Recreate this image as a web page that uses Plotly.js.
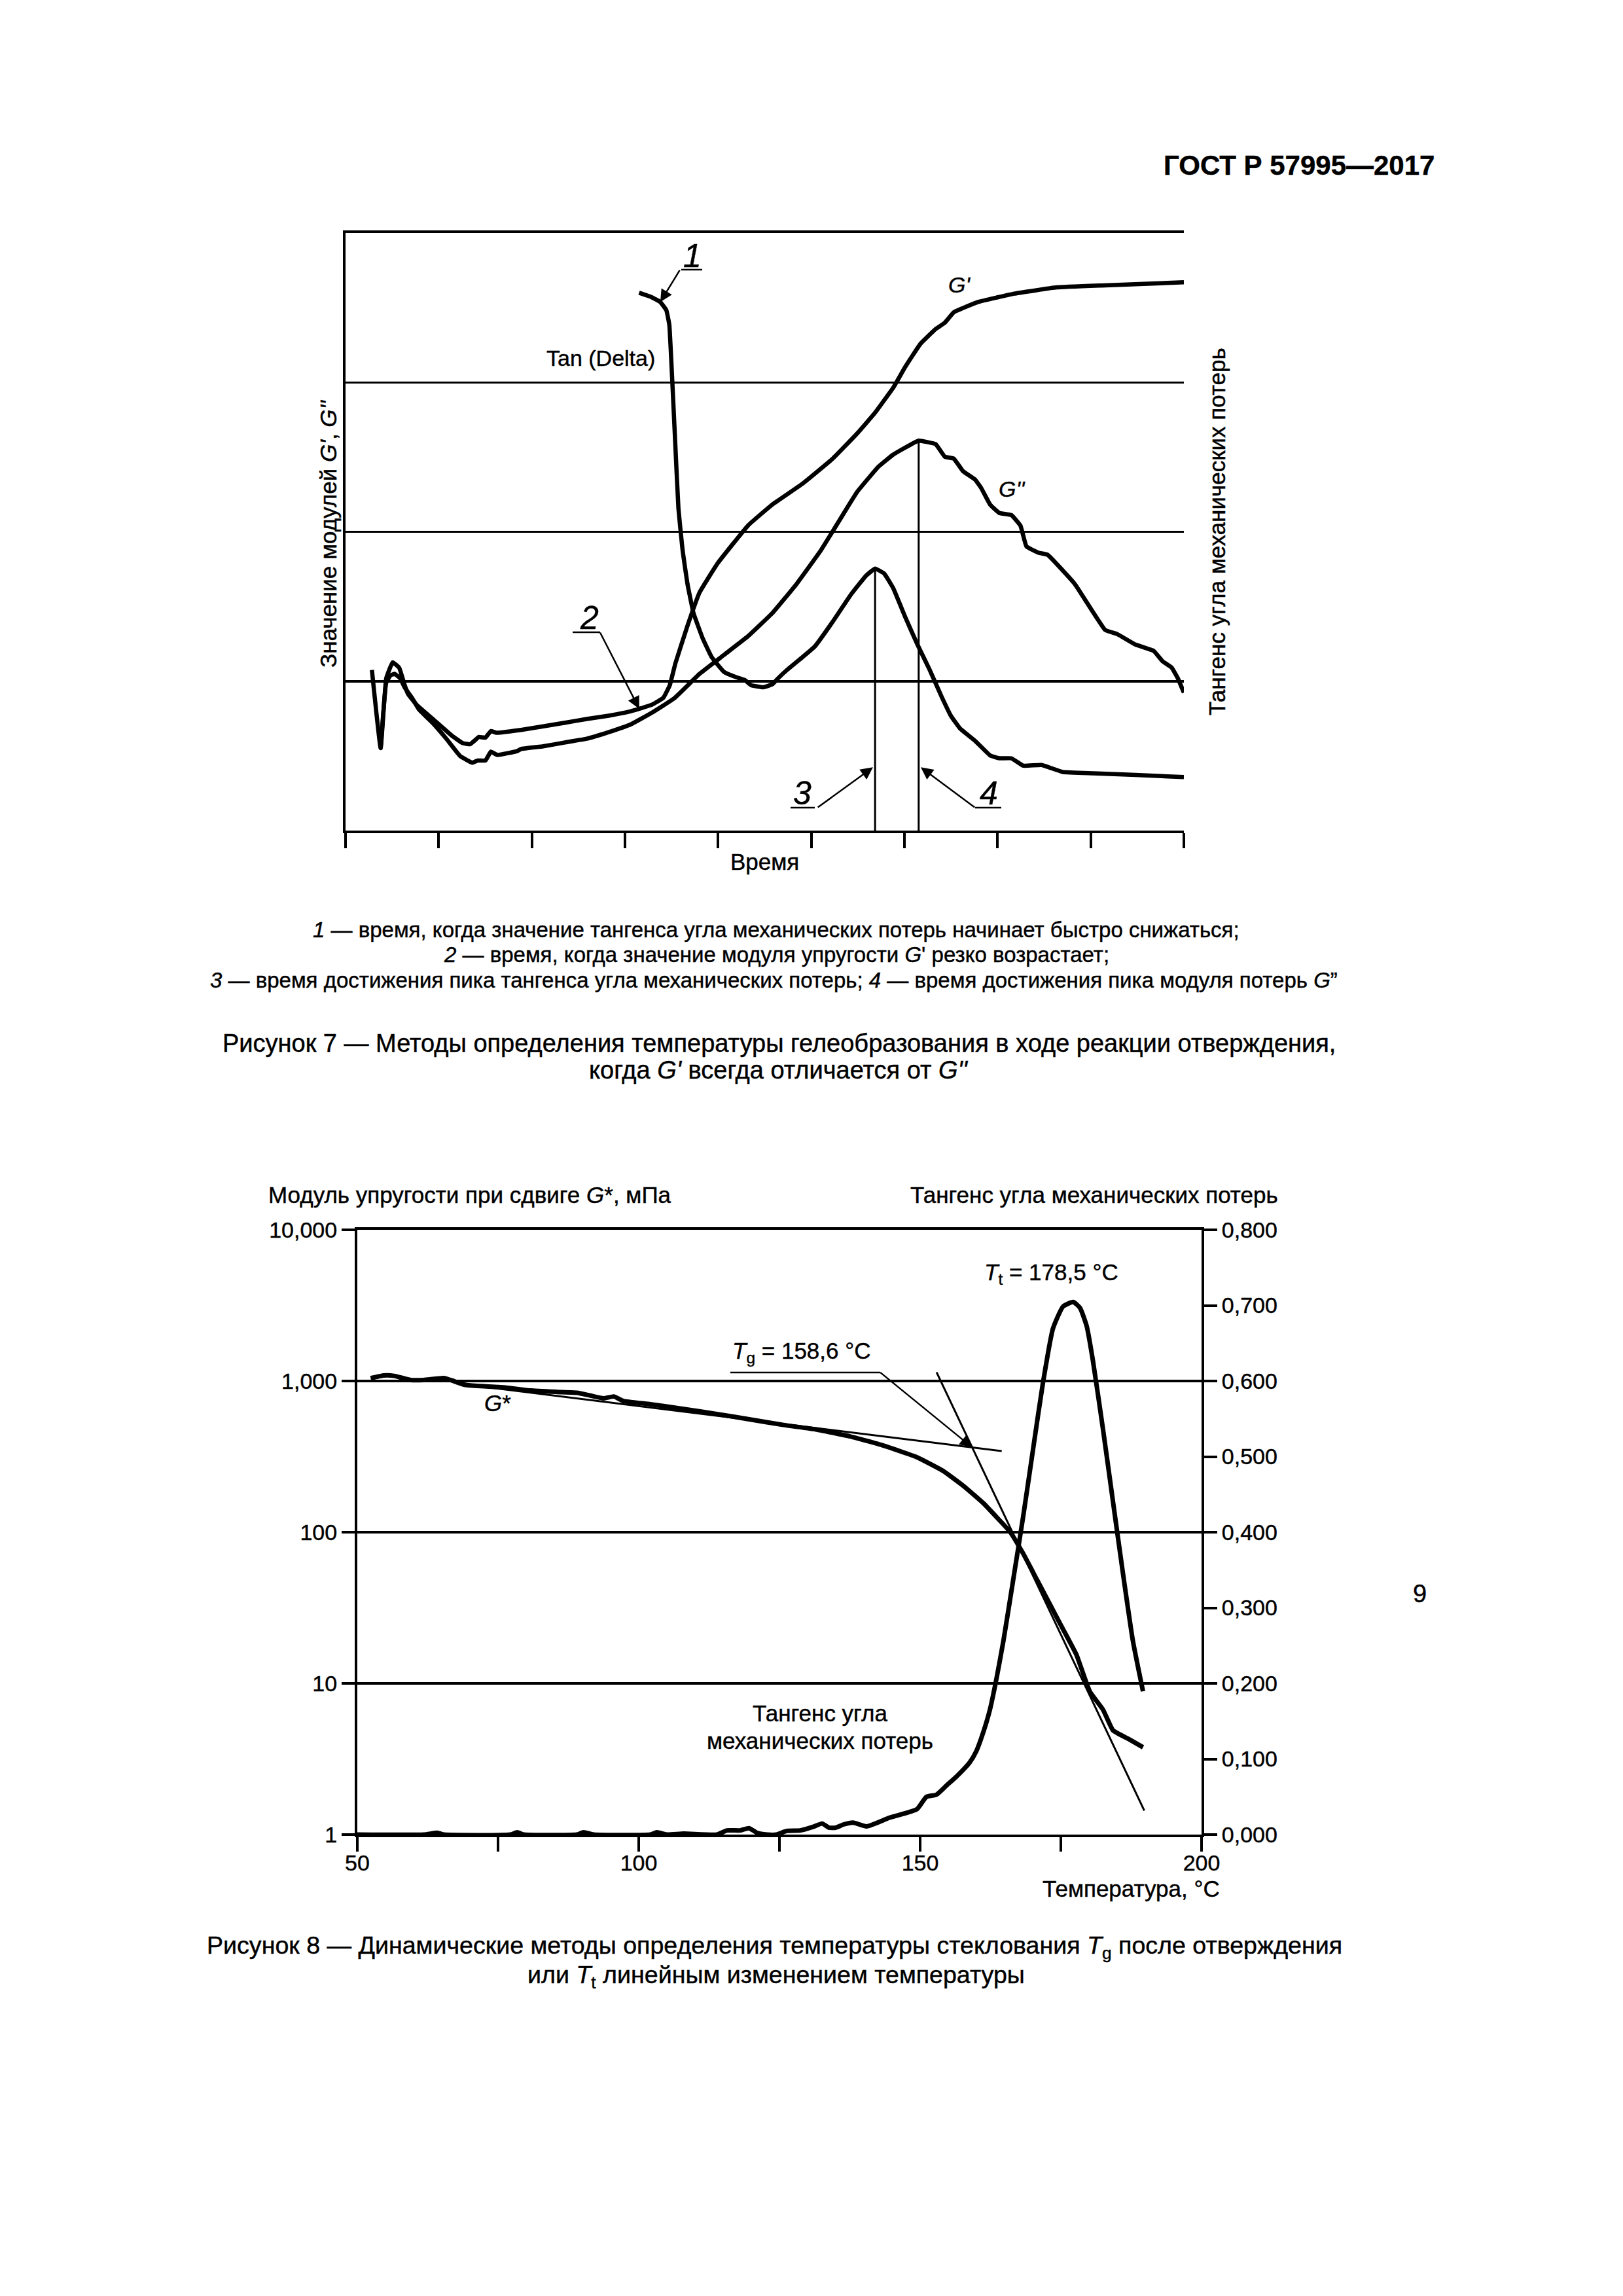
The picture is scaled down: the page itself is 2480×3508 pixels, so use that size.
<!DOCTYPE html>
<html><head><meta charset="utf-8">
<script src="https://cdn.plot.ly/plotly-3.0.1.min.js"></script>
<style>html,body{margin:0;padding:0;background:#fff;} #chart{width:2480px;height:3508px;} #chart text{stroke:#000;stroke-width:0.45px;}</style>
</head><body><div id="chart"></div>
<script>
// ---------- Figure 7 (arbitrary units: time 0..90, modulus 0..40, tan 0..11 ticks) ----------
const tdX = [31.51,32.81,33.79,34.44,34.76,35.09,35.41,35.74,36.19,36.71,37.36,38.34,39.31,40.61,41.91,42.88,43.53,44.83,45.81,46.46,47.43,49.06,50.36,52.31,54.26,55.88,56.85,57.83,58.80,60.10,61.40,62.70,64.00,64.98,65.95,67.58,69.20,70.18,71.48,72.78,74.72,77.0,80.25,84.80,90.0];
const tdY = [36.0,35.72,35.38,34.83,33.85,29.93,25.73,21.54,18.74,16.50,14.55,12.87,11.61,10.63,10.27,10.07,9.73,9.59,9.79,10.21,10.77,11.61,12.31,13.99,15.80,17.06,17.54,17.20,16.22,14.27,12.45,10.77,8.95,7.69,6.85,6.01,5.03,4.84,4.84,4.34,4.39,3.92,3.83,3.72,3.58];
const gpX = [2.83,3.77,4.36,5.06,5.76,6.35,6.70,7.64,9.51,11.38,12.56,13.37,13.96,14.31,15.02,15.60,16.19,18.84,21.22,23.55,25.90,28.25,30.59,31.53,32.94,34.11,34.81,35.41,36.71,38.01,39.96,43.21,45.81,49.06,52.31,54.91,56.85,58.80,60.10,61.73,63.35,64.33,65.30,67.90,71.80,76.35,81.55,90.0];
const gpY = [10.75,5.52,10.17,11.26,10.90,9.73,9.15,8.41,7.39,6.37,5.86,5.78,6.08,6.27,6.22,6.66,6.55,6.74,6.98,7.22,7.47,7.69,7.98,8.15,8.44,8.88,9.73,11.19,13.71,15.94,17.90,20.42,21.82,23.22,24.90,26.57,27.97,29.65,31.05,32.59,33.57,33.99,34.69,35.38,35.94,36.36,36.50,36.70];
const gppX = [3.77,4.36,4.83,5.29,5.88,6.35,7.17,7.87,9.51,10.91,12.32,13.61,14.19,15.02,15.60,16.30,18.41,18.84,21.22,23.55,25.90,28.25,30.59,32.94,35.28,38.01,40.61,43.21,45.81,48.41,51.01,52.96,54.91,57.18,58.80,60.75,61.53,63.35,64.33,65.30,66.28,67.58,68.23,69.20,70.18,71.48,72.45,73.10,74.40,75.37,78.30,81.55,82.85,84.80,86.75,87.72,88.69,89.34,90.0];
const gppY = [5.52,9.88,10.39,10.49,10.17,9.58,8.85,8.12,7.10,6.08,4.98,4.54,4.69,4.69,5.28,5.06,5.32,5.46,5.64,5.90,6.15,6.59,7.10,7.91,8.85,10.49,11.75,13.01,14.55,16.50,18.74,20.70,22.66,24.34,25.17,25.87,26.10,25.87,25.03,24.90,24.06,23.50,22.94,21.82,21.26,21.12,20.42,19.02,18.60,18.46,16.50,13.43,13.15,12.45,12.03,11.33,10.91,10.21,9.23];

// ---------- Figure 8 ----------
const gsT = [52.37,54.73,56.51,59.46,61.83,65.38,66.56,68.93,71.29,76.03,80.76,85.49,89.04,91.41,93.78,95.55,97.32,102.05,107.97,113.88,119.80,125.71,131.63,137.54,143.46,149.37,154.10,157.65,161.20,163.57,165.93,168.30,170.67,173.03,175.40,177.76,180.13,182.5,184.27,187.23,189.6];
const gsG = [1045,1089,1082,1016,1016,1045,1016,947,927,908,865,847,836,801,768,790,737,702,654,605,557,512,477,430,374,314,254,203,156,126,101,72.3,49.2,33.5,22.8,15.5,8.87,6.70,4.89,4.25,3.78];
const tanT = [50,61.83,64.2,65.4,77.2,78.4,79.6,89.0,90.2,92.0,102.1,103.2,105.0,108.0,113.9,115.7,118.0,119.6,121.0,122.8,124.5,126.3,128.7,131.0,132.6,133.8,135.0,136.4,138.1,140.5,144.6,149.4,151.1,152.9,154.7,156.5,158.8,160.0,161.2,162.4,163.6,164.8,166.5,168.3,170.1,171.8,173.6,175.4,177.2,178.4,179.6,180.7,182.5,184.3,186.0,187.8,189.6];
const tanV = [0,0,0.0024,0,0,0.003,0,0,0.003,0,0,0.003,0,0.0012,0,0.0055,0.0055,0.0085,0.0024,0,0,0.0049,0.0055,0.0103,0.0146,0.0091,0.0091,0.0134,0.0158,0.0109,0.0225,0.0334,0.0498,0.0528,0.065,0.0771,0.0954,0.1106,0.1349,0.1652,0.2077,0.2563,0.3353,0.4203,0.5115,0.5965,0.6694,0.6986,0.7046,0.6967,0.6724,0.6269,0.5358,0.4386,0.3475,0.2563,0.1895];
const tan1T = [70, 164.5], tan1G = [940, 344];
const tan2T = [152.92, 189.83], tan2G = [1143, 1.44];

const xTickVals2 = [50,100,150,200];
const xTickText2 = ['50','100','150','200'];
const yTickVals2 = [1,10,100,1000,10000];
const yTickText2 = ['1','10','100','1,000','10,000'];
const rTickVals2 = [0,0.1,0.2,0.3,0.4,0.5,0.6,0.7,0.8];
const rTickText2 = ['0,000','0,100','0,200','0,300','0,400','0,500','0,600','0,700','0,800'];

const W = 2480, H = 3508;
const FONT = 'Liberation Sans, Arial, sans-serif';
const px = X => X / W, py = Y => 1 - Y / H;
const K = '#000';

// peaks
let i3 = 0; for (let i = 0; i < tdX.length; i++) if (tdX[i] > 45 && (tdX[i3] <= 45 || tdY[i] > tdY[i3])) i3 = i;
let i4 = 0; for (let i = 0; i < gppY.length; i++) if (gppY[i] > gppY[i4]) i4 = i;

// tangent intersection (log space)
const s1 = (Math.log10(tan1G[1]) - Math.log10(tan1G[0])) / (tan1T[1] - tan1T[0]);
const s2 = (Math.log10(tan2G[1]) - Math.log10(tan2G[0])) / (tan2T[1] - tan2T[0]);
const c1 = Math.log10(tan1G[0]) - s1 * tan1T[0];
const c2 = Math.log10(tan2G[0]) - s2 * tan2T[0];
const Tint = (c2 - c1) / (s1 - s2);
const Lint = c1 + s1 * Tint;

const thick = {color: K, width: 6.5, shape: 'spline', smoothing: 0.3};
const traces = [
  {x: tdX, y: tdY, xaxis: 'x', yaxis: 'y', mode: 'lines', line: thick},
  {x: gpX, y: gpY, xaxis: 'x', yaxis: 'y', mode: 'lines', line: thick},
  {x: gppX, y: gppY, xaxis: 'x', yaxis: 'y', mode: 'lines', line: thick},
  {x: [tdX[i3], tdX[i3]], y: [tdY[i3], 0], xaxis: 'x', yaxis: 'y', mode: 'lines', line: {color: K, width: 3}},
  {x: [gppX[i4], gppX[i4]], y: [gppY[i4], 0], xaxis: 'x', yaxis: 'y', mode: 'lines', line: {color: K, width: 3}},
  {x: gsT, y: gsG, xaxis: 'x3', yaxis: 'y3', mode: 'lines', line: {color: K, width: 7, shape: 'spline', smoothing: 0.4}},
  {x: tan1T, y: tan1G, xaxis: 'x3', yaxis: 'y3', mode: 'lines', line: {color: K, width: 3}},
  {x: tan2T, y: tan2G, xaxis: 'x3', yaxis: 'y3', mode: 'lines', line: {color: K, width: 3}},
  {x: tanT, y: tanV, xaxis: 'x3', yaxis: 'y4', mode: 'lines', line: {color: K, width: 7, shape: 'spline', smoothing: 0.5}}
];
traces.forEach(t => { t.hoverinfo = 'skip'; t.showlegend = false; });

function txt(X, Y, text, size, opts) {
  return Object.assign({xref: 'paper', yref: 'paper', x: px(X), y: py(Y), text: text, showarrow: false,
    xanchor: 'center', yanchor: 'middle', font: {family: FONT, size: size, color: K}}, opts || {});
}
function arrow(xref, yref, x, y, ax, ay, extra) {
  return Object.assign({xref: xref, yref: yref, x: x, y: y, ax: ax, ay: ay, text: '', showarrow: true,
    arrowhead: 2, arrowsize: 1.5, arrowwidth: 2.5, arrowcolor: K, font: {size: 1, color: K}, borderpad: 0}, extra || {});
}
function uline(X0, X1, Y) {
  return {type: 'line', xref: 'paper', yref: 'paper', x0: px(X0), x1: px(X1), y0: py(Y), y1: py(Y), line: {color: K, width: 2.5}};
}

const annotations = [
  txt(2194, 252, '<b>ГОСТ Р 57995—2017</b>', 42, {xanchor: 'right'}),
  // Figure 7 texts
  txt(501, 816, 'Значение модулей <i>G\'</i>, <i>G\'\'</i>', 35, {textangle: -90}),
  txt(1860, 812, 'Тангенс угла механических потерь', 35, {textangle: -90}),
  txt(1168, 1317, 'Время', 35),
  txt(918, 547, 'Tan (Delta)', 34),
  txt(1466, 435, '<i>G\'</i>', 34),
  txt(1546, 747, '<i>G\'\'</i>', 34),
  txt(1058, 391, '<i>1</i>', 50),
  txt(900, 944, '<i>2</i>', 50),
  txt(1226, 1212, '<i>3</i>', 50),
  txt(1511, 1212, '<i>4</i>', 50),
  arrow('x', 'y', tdX[2], tdY[2], 30, -49),
  arrow('x', 'y', gpX[23], gpY[23], -60, -117),
  arrow('x', 'y', tdX[i3], 4.34, -88, 64, {standoff: 4}),
  arrow('x', 'y', gppX[i4], 4.34, 86, 64, {standoff: 4}),
  txt(1186, 1420, '<i>1</i> — время, когда значение тангенса угла механических потерь начинает быстро снижаться;', 33),
  txt(1186, 1458, '<i>2</i> — время, когда значение модуля упругости <i>G</i>\' резко возрастает;', 33),
  txt(1182, 1497, '<i>3</i> — время достижения пика тангенса угла механических потерь; <i>4</i> — время достижения пика модуля потерь <i>G</i>”', 33),
  txt(1190, 1594, 'Рисунок 7 — Методы определения температуры гелеобразования в ходе реакции отверждения,', 38),
  txt(1190, 1635, 'когда <i>G\'</i> всегда отличается от <i>G\'\'</i>', 38),
  // Figure 8 texts
  txt(408, 1825, 'Модуль упругости при сдвиге <i>G</i>*, мПа', 35, {xanchor: 'left'}),
  txt(1955, 1825, 'Тангенс угла механических потерь', 35, {xanchor: 'right'}),
  txt(1866, 2885, 'Температура, °C', 35, {xanchor: 'right'}),
  txt(1117, 2066, '<i>T</i><sub>g</sub> = 158,6 °C', 35, {xanchor: 'left'}),
  txt(1502, 1946, '<i>T</i><sub>t</sub> = 178,5 °C', 35, {xanchor: 'left'}),
  txt(760, 2143, '<i>G</i>*', 35),
  txt(1253, 2617, 'Тангенс угла', 35),
  txt(1253, 2659, 'механических потерь', 35),
  arrow('x3', 'y3', Tint, Lint, -141, -115),
  txt(1183, 2975, 'Рисунок 8 — Динамические методы определения температуры стеклования <i>T</i><sub>g</sub> после отверждения', 37.6),
  txt(1186, 3020, 'или <i>T</i><sub>t</sub> линейным изменением температуры', 37.6),
  txt(2169, 2435, '9', 38)
];

const shapes = [
  uline(1041, 1073, 412), uline(875, 917, 966), uline(1208, 1245, 1234), uline(1490, 1530, 1234),
  uline(1116, 1345, 2097)
];

const axBase = {showline: true, linecolor: K, linewidth: 4, zeroline: false, showgrid: false, fixedrange: true,
  tickcolor: K, tickwidth: 4, tickfont: {family: FONT, size: 34, color: K}};

const layout = {
  width: W, height: H, margin: {l: 0, r: 0, t: 0, b: 0}, paper_bgcolor: '#fff', plot_bgcolor: '#fff',
  showlegend: false, font: {family: FONT, color: K},
  xaxis: Object.assign({}, axBase, {domain: [px(528), px(1809)], range: [0, 90], anchor: 'y', mirror: true,
    ticks: 'outside', ticklen: 23, tick0: 0, dtick: 10, showticklabels: false}),
  yaxis: Object.assign({}, axBase, {domain: [py(1269), py(356)], range: [0, 40], anchor: 'x', ticks: '',
    showticklabels: false, showgrid: true, gridcolor: K, gridwidth: 3.5, tick0: 0, dtick: 10}),
  yaxis2: Object.assign({}, axBase, {overlaying: 'y', side: 'right', anchor: 'x', range: [0, 11],
    ticks: 'outside', ticklen: 22, tick0: 0, dtick: 1, showticklabels: false}),
  xaxis3: Object.assign({}, axBase, {domain: [px(546), px(1836)], range: [50, 200], anchor: 'y3', mirror: true,
    ticks: 'outside', ticklen: 22, tickmode: 'array', tickvals: xTickVals2, ticktext: xTickText2,
    ticklabelstandoff: -12,
    minor: {tickmode: 'linear', tick0: 50, dtick: 25, ticks: 'outside', ticklen: 22, tickwidth: 4, tickcolor: K, showgrid: false}}),
  yaxis3: Object.assign({}, axBase, {domain: [py(2803), py(1879)], type: 'log', range: [0, 4], anchor: 'x3',
    ticks: 'outside', ticklen: 20, tickmode: 'array', tickvals: yTickVals2, ticktext: yTickText2,
    showgrid: true, gridcolor: K, gridwidth: 4}),
  yaxis4: Object.assign({}, axBase, {overlaying: 'y3', side: 'right', anchor: 'x3', range: [0, 0.8],
    ticks: 'outside', ticklen: 20, tickmode: 'array', tickvals: rTickVals2, ticktext: rTickText2}),
  annotations: annotations,
  shapes: shapes
};

Plotly.newPlot('chart', traces, layout, {displayModeBar: false, staticPlot: true});
</script></body></html>
